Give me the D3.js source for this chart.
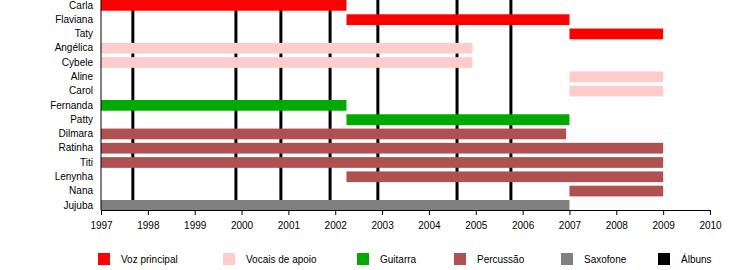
<!DOCTYPE html>
<html>
<head>
<meta charset="utf-8">
<script src="https://cdn.jsdelivr.net/npm/d3@7"></script>
<style>
  body { margin: 0; background: #fff; }
  text { font-family: "Liberation Sans", Arial, sans-serif; }
</style>
</head>
<body>
<div id="chart"></div>
<script>
// band members, top to bottom
var members = ["Carla", "Flaviana", "Taty", "Angélica", "Cybele", "Aline", "Carol",
  "Fernanda", "Patty", "Dilmara", "Ratinha", "Titi", "Lenynha", "Nana", "Jujuba"];

// each span: member, start year, end year, role
var spanMember = ["Carla", "Flaviana", "Taty", "Angélica", "Cybele", "Aline", "Carol",
  "Fernanda", "Patty", "Dilmara", "Ratinha", "Titi", "Lenynha", "Nana", "Jujuba"];
var spanStart = [1997, 2002.24, 2007, 1997, 1997, 2007, 2007,
  1997, 2002.24, 1997, 1997, 1997, 2002.24, 2007, 1997];
var spanEnd = [2002.24, 2007, 2009, 2004.93, 2004.93, 2009, 2009,
  2002.24, 2007, 2006.93, 2009, 2009, 2009, 2009, 2007];
var spanRole = ["voz", "voz", "voz", "apoio", "apoio", "apoio", "apoio",
  "guitarra", "guitarra", "percussao", "percussao", "percussao", "percussao", "percussao", "sax"];

// album release dates (decimal years)
var albums = [1997.68, 1999.88, 2000.84, 2001.89, 2002.91, 2004.60, 2005.75];

var roles = ["voz", "apoio", "guitarra", "percussao", "sax", "album"];
var roleLabels = ["Voz principal", "Vocais de apoio", "Guitarra", "Percussão", "Saxofone", "Álbuns"];
var roleColors = ["#ff0000", "#ffcccc", "#00aa00", "#b05050", "#808080", "#000000"];

var years = d3.range(1997, 2011);

var svgWidth = 750;
var svgHeight = 270;

var svg = d3.select("#chart")
  .append("svg")
  .attr("width", svgWidth)
  .attr("height", svgHeight);

var x = d3.scaleLinear()
  .domain([1997, 2010])
  .range([101, 710]);

var y = d3.scaleBand()
  .domain(members)
  .range([0, 210.7])
  .paddingInner(0.25)
  .paddingOuter(0);

var axisY = 210;

var color = d3.scaleOrdinal()
  .domain(roles)
  .range(roleColors);

// album lines (behind bars)
svg.append("g")
  .selectAll("line")
  .data(albums)
  .enter()
  .append("line")
  .attr("x1", d => x(d))
  .attr("x2", d => x(d))
  .attr("y1", 0)
  .attr("y2", axisY)
  .attr("stroke", color("album"))
  .attr("stroke-width", 3);

// member bars
var spans = spanMember.map(function(m, i) {
  return { member: m, start: spanStart[i], end: spanEnd[i], role: spanRole[i] };
});

svg.append("g")
  .selectAll("rect")
  .data(spans)
  .enter()
  .append("rect")
  .attr("x", d => x(d.start))
  .attr("y", d => y(d.member))
  .attr("width", d => x(d.end) - x(d.start))
  .attr("height", y.bandwidth())
  .attr("fill", d => color(d.role));

// x axis
var bottomAxis = d3.axisBottom(x)
  .tickValues(years)
  .tickFormat(d3.format("d"))
  .tickSize(5)
  .tickSizeOuter(0);

var xAxis = svg.append("g")
  .attr("transform", `translate(0, ${axisY})`)
  .call(bottomAxis);

xAxis.selectAll("text")
  .attr("font-size", "10px")
  .attr("font-family", null)
  .attr("fill", "#000")
  .attr("dy", "1.05em");
xAxis.select(".domain").attr("stroke", "#000");
xAxis.selectAll(".tick line").attr("stroke", "#000");

// y axis
var leftAxis = d3.axisLeft(y)
  .tickSize(0)
  .tickPadding(8);

var yAxis = svg.append("g")
  .attr("transform", `translate(${x(1997)}, 0)`)
  .call(leftAxis);

yAxis.select(".domain")
  .attr("d", `M0,0V${axisY}`)
  .attr("stroke", "#000");
yAxis.selectAll("text")
  .attr("font-size", "10px")
  .attr("font-family", null)
  .attr("fill", "#000");

// legend
var legendX = [98, 223, 357, 454, 561, 658];

var legend = svg.append("g")
  .selectAll("g")
  .data(roles)
  .enter()
  .append("g")
  .attr("transform", (d, i) => `translate(${legendX[i]}, 253)`);

legend.append("rect")
  .attr("width", 12)
  .attr("height", 12)
  .attr("fill", d => color(d));

legend.append("text")
  .attr("x", 23)
  .attr("y", 10)
  .attr("font-size", "10px")
  .attr("fill", "#000")
  .text((d, i) => roleLabels[i]);
</script>
</body>
</html>
